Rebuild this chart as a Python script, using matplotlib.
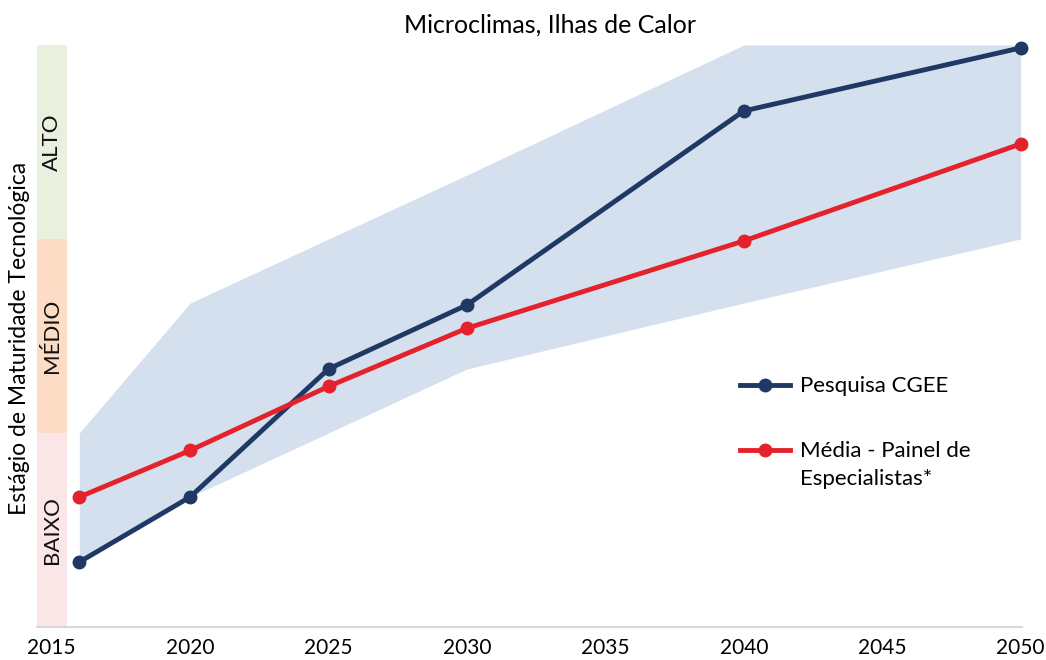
import matplotlib
matplotlib.use("Agg")
import matplotlib.pyplot as plt
from matplotlib.lines import Line2D

plt.rcParams['font.family'] = ['Lato', 'DejaVu Sans']

anos = [2016, 2020, 2025, 2030, 2040, 2050]
pesquisa = [0.335, 0.67, 1.33, 1.66, 2.66, 2.985]
media = [0.67, 0.91, 1.24, 1.54, 1.99, 2.49]
faixa_sup = [1.0, 1.67, 2.0, 2.33, 3.0, 3.0]
faixa_inf = [0.335, 0.67, 1.0, 1.33, 1.67, 2.0]

niveis = ['BAIXO', 'MÉDIO', 'ALTO']
cores_niveis = ['#fbe6e7', '#fddcc6', '#e9f0de']
ticks_x = [2015, 2020, 2025, 2030, 2035, 2040, 2045, 2050]
legendas = ['Pesquisa CGEE', 'Média - Painel de\nEspecialistas*']

azul = '#1f3864'
vermelho = '#e3222b'

fig = plt.figure(figsize=(10.46, 6.6), dpi=100)
ax = fig.add_axes([37/1046, 1 - 627/660, (1022 - 37)/1046, (627 - 45)/660])

ax.fill_between(anos, faixa_inf, faixa_sup, color='#d5e0ef', lw=0, zorder=1)

# faixas de maturidade a esquerda
for i, (nome, cor) in enumerate(zip(niveis, cores_niveis)):
    ax.axhspan(i, i + 1, xmin=0, xmax=30/985, color=cor, lw=0, zorder=0)
    ax.text(2015.0, i + 0.5, nome, rotation=90, ha='center', va='center',
            fontsize=16, color='#111111')

ax.plot(anos, pesquisa, color=azul, lw=3.5, marker='o', ms=9, zorder=3, clip_on=False)
ax.plot(anos, media, color=vermelho, lw=3.5, marker='o', ms=9, zorder=3, clip_on=False)

ax.set_xlim(2014.47, 2050.05)
ax.set_ylim(0, 3)
ax.set_yticks([])
ax.set_xticks(ticks_x)
ax.tick_params(axis='x', length=0, labelsize=15, pad=8)
for s in ['top', 'right', 'left']:
    ax.spines[s].set_visible(False)
ax.spines['bottom'].set_color('#d9d9d9')
ax.spines['bottom'].set_linewidth(1.5)

fig.text(550/1046, 1 - 25/660, 'Microclimas, Ilhas de Calor', ha='center',
         va='center', fontsize=18)
fig.text(20/1046, 1 - 338/660, 'Estágio de Maturidade Tecnológica', rotation=90,
         ha='center', va='center', fontsize=16.5)

# legenda manual (marcador alinhado com a primeira linha do texto)
for cor, texto, y in zip([azul, vermelho], legendas, [385, 450]):
    yf = 1 - y/660
    fig.add_artist(Line2D([740/1046, 790/1046], [yf, yf], color=cor, lw=3.5,
                          transform=fig.transFigure))
    fig.add_artist(Line2D([765/1046], [yf], color=cor, marker='o', ms=9,
                          transform=fig.transFigure))
    fig.text(800/1046, yf + 9/660, texto, ha='left', va='top', fontsize=16,
             linespacing=1.5)

fig.savefig('out.png', dpi=100)
